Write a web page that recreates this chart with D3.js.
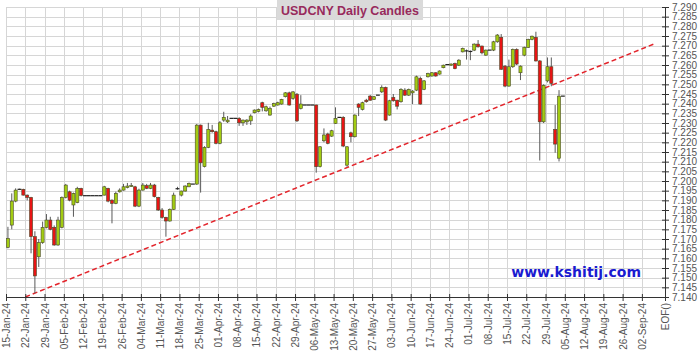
<!DOCTYPE html>
<html>
<head>
<meta charset="utf-8">
<script src="https://cdn.jsdelivr.net/npm/d3@7"></script>
<style>
body { margin: 0; background: #fff; }
svg { display: block; font-family: "Liberation Sans", Arial, sans-serif; }
</style>
</head>
<body>
<svg id="chart" width="700" height="354"></svg>
<script>
// one value per weekday, starting Mon 15-Jan-24
var openPx = [
    7.1657, 7.1772, 7.1896, 7.1957, 7.1957, 7.1927, 7.1915, 7.1712, 7.1608, 7.1681,
    7.1760, 7.1798, 7.1760, 7.1669, 7.1760, 7.1915, 7.1944, 7.1876, 7.1888, 7.1962,
    7.1924, 7.1924, 7.1924, 7.1924, 7.1924, 7.1927, 7.1962, 7.1901, 7.1884, 7.1944,
    7.1953, 7.1966, 7.1972, 7.1970, 7.1870, 7.1953, 7.1976, 7.1962, 7.1979, 7.1915,
    7.1850, 7.1812, 7.1793, 7.1853, 7.1960, 7.1927, 7.1948, 7.1970, 7.1984, 7.1984,
    7.2289, 7.2074, 7.2174, 7.2263, 7.2255, 7.2195, 7.2315, 7.2306, 7.2324, 7.2324,
    7.2324, 7.2301, 7.2306, 7.2311, 7.2353, 7.2360, 7.2405, 7.2363, 7.2341, 7.2387,
    7.2393, 7.2398, 7.2436, 7.2456, 7.2427, 7.2449, 7.2375, 7.2393, 7.2393, 7.2393,
    7.2393, 7.2074, 7.2208, 7.2243, 7.2232, 7.2298, 7.2329, 7.2329, 7.2082, 7.2249,
    7.2229, 7.2398, 7.2370, 7.2418, 7.2439, 7.2422, 7.2444, 7.2461, 7.2484, 7.2341,
    7.2432, 7.2418, 7.2410, 7.2470, 7.2444, 7.2456, 7.2470, 7.2531, 7.2474, 7.2539,
    7.2543, 7.2560, 7.2553, 7.2586, 7.2602, 7.2599, 7.2608, 7.2599, 7.2668, 7.2673,
    7.2670, 7.2677, 7.2708, 7.2698, 7.2651, 7.2677, 7.2677, 7.2720, 7.2743, 7.2594,
    7.2491, 7.2591, 7.2681, 7.2560, 7.2651, 7.2691, 7.2732, 7.2743, 7.2621, 7.2306,
    7.2518, 7.2591, 7.2267, 7.2118, 7.2439
];
var highPx = [
    7.1763, 7.1936, 7.1962, 7.1960, 7.1960, 7.1930, 7.1918, 7.1740, 7.1700, 7.1790,
    7.1829, 7.1815, 7.1770, 7.1815, 7.1920, 7.1985, 7.1950, 7.1940, 7.1970, 7.1965,
    7.1924, 7.1924, 7.1924, 7.1924, 7.1924, 7.1975, 7.1965, 7.1905, 7.1945, 7.1962,
    7.1985, 7.1990, 7.1990, 7.1975, 7.1960, 7.1990, 7.1985, 7.1990, 7.1985, 7.1918,
    7.1860, 7.1815, 7.1858, 7.1940, 7.1970, 7.1950, 7.1978, 7.1992, 7.1984, 7.2295,
    7.2292, 7.2180, 7.2301, 7.2290, 7.2260, 7.2310, 7.2358, 7.2336, 7.2324, 7.2324,
    7.2330, 7.2318, 7.2320, 7.2345, 7.2370, 7.2375, 7.2410, 7.2390, 7.2385, 7.2405,
    7.2410, 7.2425, 7.2460, 7.2462, 7.2465, 7.2455, 7.2444, 7.2393, 7.2393, 7.2393,
    7.2395, 7.2180, 7.2272, 7.2250, 7.2265, 7.2381, 7.2329, 7.2335, 7.2180, 7.2255,
    7.2345, 7.2402, 7.2410, 7.2425, 7.2445, 7.2440, 7.2444, 7.2495, 7.2488, 7.2420,
    7.2450, 7.2420, 7.2480, 7.2480, 7.2478, 7.2470, 7.2545, 7.2540, 7.2522, 7.2560,
    7.2563, 7.2562, 7.2572, 7.2602, 7.2602, 7.2608, 7.2612, 7.2630, 7.2690, 7.2680,
    7.2675, 7.2712, 7.2729, 7.2700, 7.2680, 7.2677, 7.2725, 7.2760, 7.2760, 7.2600,
    7.2628, 7.2685, 7.2686, 7.2598, 7.2695, 7.2736, 7.2752, 7.2772, 7.2625, 7.2500,
    7.2639, 7.2639, 7.2393, 7.2470, 7.2439
];
var lowPx = [
    7.1652, 7.1750, 7.1890, 7.1955, 7.1925, 7.1900, 7.1626, 7.1419, 7.1555, 7.1675,
    7.1755, 7.1745, 7.1665, 7.1665, 7.1755, 7.1910, 7.1895, 7.1815, 7.1885, 7.1920,
    7.1924, 7.1924, 7.1924, 7.1924, 7.1924, 7.1925, 7.1890, 7.1781, 7.1880, 7.1940,
    7.1950, 7.1962, 7.1970, 7.1865, 7.1865, 7.1950, 7.1958, 7.1958, 7.1915, 7.1845,
    7.1805, 7.1712, 7.1790, 7.1850, 7.1955, 7.1920, 7.1945, 7.1968, 7.1984, 7.1980,
    7.1940, 7.2070, 7.2170, 7.2250, 7.2190, 7.2190, 7.2306, 7.2300, 7.2324, 7.2324,
    7.2285, 7.2285, 7.2290, 7.2290, 7.2350, 7.2355, 7.2360, 7.2358, 7.2338, 7.2383,
    7.2390, 7.2395, 7.2432, 7.2390, 7.2420, 7.2305, 7.2370, 7.2393, 7.2393, 7.2393,
    7.2043, 7.2070, 7.2200, 7.2190, 7.2228, 7.2295, 7.2329, 7.2175, 7.2074, 7.2200,
    7.2225, 7.2336, 7.2365, 7.2405, 7.2415, 7.2420, 7.2444, 7.2455, 7.2310, 7.2338,
    7.2410, 7.2370, 7.2405, 7.2440, 7.2440, 7.2398, 7.2465, 7.2395, 7.2470, 7.2535,
    7.2540, 7.2540, 7.2550, 7.2583, 7.2602, 7.2596, 7.2578, 7.2595, 7.2665, 7.2628,
    7.2625, 7.2672, 7.2690, 7.2655, 7.2648, 7.2677, 7.2672, 7.2715, 7.2575, 7.2485,
    7.2488, 7.2585, 7.2600, 7.2522, 7.2645, 7.2688, 7.2728, 7.2618, 7.2106, 7.2300,
    7.2510, 7.2490, 7.2146, 7.2101, 7.2439
];
var closePx = [
    7.1703, 7.1896, 7.1953, 7.1957, 7.1927, 7.1915, 7.1712, 7.1509, 7.1681, 7.1760,
    7.1798, 7.1750, 7.1669, 7.1798, 7.1915, 7.1979, 7.1901, 7.1936, 7.1962, 7.1924,
    7.1924, 7.1924, 7.1924, 7.1924, 7.1924, 7.1970, 7.1896, 7.1884, 7.1936, 7.1953,
    7.1970, 7.1974, 7.1976, 7.1870, 7.1953, 7.1979, 7.1962, 7.1979, 7.1919, 7.1850,
    7.1812, 7.1793, 7.1853, 7.1927, 7.1960, 7.1948, 7.1974, 7.1988, 7.1984, 7.2289,
    7.2094, 7.2174, 7.2267, 7.2255, 7.2195, 7.2301, 7.2329, 7.2315, 7.2324, 7.2324,
    7.2301, 7.2315, 7.2315, 7.2336, 7.2367, 7.2370, 7.2381, 7.2384, 7.2375, 7.2400,
    7.2405, 7.2422, 7.2456, 7.2393, 7.2461, 7.2311, 7.2398, 7.2393, 7.2393, 7.2393,
    7.2074, 7.2177, 7.2238, 7.2195, 7.2260, 7.2324, 7.2329, 7.2181, 7.2177, 7.2229,
    7.2341, 7.2381, 7.2405, 7.2410, 7.2418, 7.2436, 7.2444, 7.2484, 7.2315, 7.2415,
    7.2415, 7.2387, 7.2474, 7.2444, 7.2474, 7.2465, 7.2539, 7.2398, 7.2518, 7.2556,
    7.2560, 7.2543, 7.2569, 7.2599, 7.2602, 7.2605, 7.2581, 7.2625, 7.2686, 7.2673,
    7.2670, 7.2708, 7.2694, 7.2663, 7.2677, 7.2677, 7.2720, 7.2755, 7.2578, 7.2491,
    7.2591, 7.2681, 7.2605, 7.2594, 7.2691, 7.2732, 7.2749, 7.2621, 7.2306, 7.2495,
    7.2591, 7.2505, 7.2191, 7.2439, 7.2439
];

var weekLabels = ["15-Jan-24", "22-Jan-24", "29-Jan-24", "05-Feb-24", "12-Feb-24", "19-Feb-24",
    "26-Feb-24", "04-Mar-24", "11-Mar-24", "18-Mar-24", "25-Mar-24", "01-Apr-24", "08-Apr-24",
    "15-Apr-24", "22-Apr-24", "29-Apr-24", "06-May-24", "13-May-24", "20-May-24", "27-May-24",
    "03-Jun-24", "10-Jun-24", "17-Jun-24", "24-Jun-24", "01-Jul-24", "08-Jul-24", "15-Jul-24",
    "22-Jul-24", "29-Jul-24", "05-Aug-24", "12-Aug-24", "19-Aug-24", "26-Aug-24", "02-Sep-24"];
var endLabel = "EOF()";
var lastSlot = 171;

// trend line: [weekday index, price]
var trendPoints = [[5, 7.140], [168.7, 7.2713]];

var margin = { top: 7, right: 35, bottom: 57, left: 6 },
    width = 700 - margin.left - margin.right,
    height = 354 - margin.top - margin.bottom;

var svg = d3.select("#chart")
    .append("g")
    .attr("transform", "translate(" + margin.left + "," + margin.top + ")");

var x = d3.scaleLinear().domain([0, lastSlot]).range([0, width]);
var y = d3.scaleLinear().domain([7.140, 7.290]).range([height, 0]);

var yTicks = d3.range(7140, 7291, 5).map(d => d / 1000);
var xTicks = weekLabels.map((d, k) => k * 5);

// grid
svg.append("g").selectAll("line")
    .data(yTicks)
    .enter().append("line")
    .attr("x1", 0).attr("x2", width)
    .attr("y1", d => Math.round(y(d)) + 0.5).attr("y2", d => Math.round(y(d)) + 0.5)
    .attr("stroke", "#d6d6d6");

svg.append("g").selectAll("line")
    .data(xTicks)
    .enter().append("line")
    .attr("x1", d => Math.round(x(d)) + 0.5).attr("x2", d => Math.round(x(d)) + 0.5)
    .attr("y1", 0).attr("y2", height)
    .attr("stroke", "#d6d6d6");

// trend line
svg.append("path")
    .datum(trendPoints)
    .attr("fill", "none")
    .attr("stroke", "#e3242b")
    .attr("stroke-width", 1.5)
    .attr("stroke-dasharray", "5,3")
    .attr("d", d3.line().x(d => x(d[0])).y(d => y(d[1])));

// candles
var days = d3.range(openPx.length);
var bw = x(1) * 0.8;

var candle = svg.append("g").selectAll("g")
    .data(days)
    .enter().append("g");

candle.filter(i => highPx[i] > lowPx[i])
    .append("line")
    .attr("x1", i => x(i + 0.5)).attr("x2", i => x(i + 0.5))
    .attr("y1", i => y(highPx[i])).attr("y2", i => y(lowPx[i]))
    .attr("stroke", "#5a5a5a");

candle.filter(i => openPx[i] !== closePx[i])
    .append("rect")
    .attr("x", i => x(i + 0.5) - bw / 2)
    .attr("y", i => y(Math.max(openPx[i], closePx[i])))
    .attr("width", bw)
    .attr("height", i => Math.max(1, Math.abs(y(openPx[i]) - y(closePx[i]))))
    .attr("fill", i => closePx[i] > openPx[i] ? "#a2cc12" : "#e81414")
    .attr("stroke", "#4a4a2a")
    .attr("stroke-width", 0.6);

candle.filter(i => openPx[i] === closePx[i])
    .append("line")
    .attr("x1", i => x(i)).attr("x2", i => x(i + 1))
    .attr("y1", i => y(closePx[i])).attr("y2", i => y(closePx[i]))
    .attr("stroke", "#222")
    .attr("stroke-width", 1.2);

// bottom axis
var xAxis = svg.append("g")
    .attr("transform", "translate(0," + height + ")")
    .call(d3.axisBottom(x)
        .tickValues(xTicks.concat([lastSlot]))
        .tickSize(3)
        .tickFormat((d, k) => k < weekLabels.length ? weekLabels[k] : endLabel));

xAxis.select(".domain").attr("stroke", "#333");
xAxis.selectAll(".tick line").attr("y1", -3).attr("y2", 4).attr("stroke", "#333");
xAxis.selectAll(".tick text")
    .attr("transform", "rotate(-90)")
    .attr("text-anchor", "end")
    .attr("x", -6)
    .attr("y", 0)
    .attr("dy", "0.35em")
    .style("font-size", "10px")
    .style("font-family", "'Liberation Sans', Arial, sans-serif")
    .attr("fill", "#555");

// right axis
var yAxis = svg.append("g")
    .attr("transform", "translate(" + width + ",0)")
    .call(d3.axisRight(y)
        .tickValues(yTicks)
        .tickSize(3)
        .tickFormat(d3.format(".3f")));

yAxis.select(".domain").attr("stroke", "#333");
yAxis.selectAll(".tick line").attr("x1", -3).attr("x2", 4).attr("stroke", "#333");
yAxis.selectAll(".tick text")
    .attr("x", 7)
    .style("font-size", "10px")
    .style("font-family", "'Liberation Sans', Arial, sans-serif")
    .attr("fill", "#555");

// title
var title = d3.select("#chart").append("g");
var titleText = title.append("text")
    .attr("x", 350)
    .attr("y", 15)
    .attr("text-anchor", "middle")
    .style("font-size", "12.5px")
    .style("font-weight", "bold")
    .attr("fill", "#982a5c")
    .text("USDCNY Daily Candles");
var tb = titleText.node().getBBox();
title.insert("rect", "text")
    .attr("x", tb.x - 4)
    .attr("y", 0)
    .attr("width", tb.width + 8)
    .attr("height", 20)
    .attr("fill", "#dadada");

// watermark
d3.select("#chart").append("text")
    .attr("x", 641)
    .attr("y", 277)
    .attr("text-anchor", "end")
    .style("font-family", "'DejaVu Sans', Verdana, sans-serif")
    .style("font-size", "14px")
    .style("font-weight", "bold")
    .attr("fill", "#1a1ad0")
    .text("www.kshitij.com");
</script>
</body>
</html>
